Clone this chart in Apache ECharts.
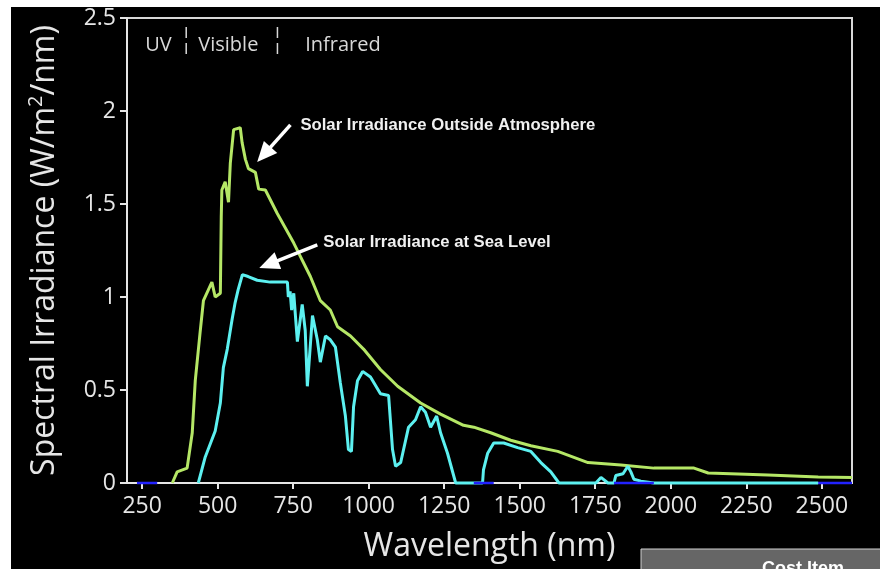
<!DOCTYPE html>
<html>
<head>
    <meta charset="UTF-8">
    <title>Solar Spectral Irradiance</title>
    <script src="https://cdn.jsdelivr.net/npm/echarts@6.0.0/dist/echarts.min.js"></script>
    <style>
        html, body {
            margin: 0;
            padding: 0;
            background: #fff;
        }
        #chartContainer {
            width: 880px;
            height: 569px;
        }
    </style>
</head>
<body>
    <div id="chartContainer"></div>

    <script>
        // Solar irradiance outside the atmosphere (wavelength nm, W/m2/nm)
        const outsideNm = [350, 366, 399, 416, 426, 442, 453, 481, 492, 509, 512, 514, 525, 536, 542, 553, 575, 581, 592, 602, 625, 636, 658, 697, 752, 807, 840, 873, 897, 940, 983, 1039, 1096, 1172, 1238, 1314, 1348, 1404, 1470, 1537, 1626, 1726, 1835, 1944, 2077, 2124, 2322, 2488, 2600];
        const outsideVal = [0, 0.06, 0.08, 0.27, 0.55, 0.81, 0.98, 1.08, 1.0, 1.02, 1.43, 1.575, 1.62, 1.51, 1.72, 1.90, 1.91, 1.83, 1.74, 1.69, 1.67, 1.58, 1.575, 1.45, 1.29, 1.11, 0.98, 0.93, 0.84, 0.79, 0.72, 0.61, 0.52, 0.43, 0.37, 0.31, 0.30, 0.27, 0.23, 0.20, 0.17, 0.11, 0.097, 0.08, 0.08, 0.054, 0.043, 0.032, 0.03];

        // Solar irradiance at sea level
        const seaNm = [436, 459, 492, 509, 519, 532, 548, 558, 568, 582, 601, 631, 674, 731, 734, 740, 745, 752, 764, 780, 790, 797, 814, 830, 840, 857, 873, 890, 906, 923, 933, 943, 950, 963, 980, 1006, 1039, 1066, 1079, 1089, 1106, 1132, 1155, 1172, 1188, 1205, 1225, 1238, 1261, 1288, 1377, 1380, 1394, 1414, 1447, 1493, 1537, 1570, 1603, 1630, 1752, 1769, 1792, 1812, 1818, 1842, 1858, 1868, 1878, 1901, 1944, 2488];
        const seaVal = [0, 0.14, 0.28, 0.43, 0.62, 0.72, 0.88, 0.97, 1.04, 1.12, 1.11, 1.09, 1.08, 1.08, 1.0, 1.03, 0.93, 1.02, 0.76, 0.96, 0.82, 0.52, 0.9, 0.77, 0.65, 0.79, 0.77, 0.73, 0.54, 0.36, 0.18, 0.17, 0.41, 0.55, 0.60, 0.57, 0.48, 0.47, 0.18, 0.09, 0.11, 0.30, 0.34, 0.41, 0.38, 0.30, 0.36, 0.27, 0.16, 0, 0, 0.07, 0.16, 0.215, 0.215, 0.19, 0.17, 0.11, 0.06, 0, 0, 0.03, 0, 0, 0.04, 0.05, 0.09, 0.06, 0.02, 0.01, 0, 0];

        // zero-level blue segments [start, end]
        const blueSegments = [[233, 300], [1348, 1414], [1812, 1944], [2488, 2600]];

        const wavelengthTicks = [250, 500, 750, 1000, 1250, 1500, 1750, 2000, 2250, 2500];

        // band labels along the top
        const bandLabels = ['UV', 'Visible', 'Infrared'];
        const bandLabelNm = [260, 436, 790];
        const bandSeparatorNm = [396, 698];

        const axisColor = '#e6e6e6';
        const labelFont = '"Open Sans", "DejaVu Sans", sans-serif';

        let myChart = echarts.init(document.getElementById('chartContainer'));

        function toPairs(xs, ys) {
            return xs.map((x, i) => [x, ys[i]]);
        }

        function blueData() {
            const out = [];
            blueSegments.forEach(s => {
                out.push([s[0], 0], [s[1], 0], [s[1], '-']);
            });
            return out;
        }

        const option = {
            backgroundColor: '#000',
            animation: false,
            grid: {
                left: 127,
                right: 28,
                top: 18,
                bottom: 86,
                show: true,
                borderColor: '#d8d8d8',
                borderWidth: 2
            },
            xAxis: {
                type: 'value',
                min: 200,
                max: 2600,
                name: 'Wavelength (nm)',
                nameLocation: 'middle',
                nameGap: 48,
                nameTextStyle: { color: axisColor, fontSize: 32, fontFamily: labelFont },
                axisLine: { lineStyle: { color: axisColor, width: 2 } },
                axisTick: { show: true, customValues: wavelengthTicks, length: 6, lineStyle: { color: axisColor, width: 2 } },
                axisLabel: {
                    customValues: wavelengthTicks, margin: 12, color: axisColor, fontSize: 23, fontFamily: labelFont,
                    formatter: v => String(v)
                },
                splitLine: { show: false }
            },
            yAxis: {
                type: 'value',
                min: 0,
                max: 2.5,
                interval: 0.5,
                name: 'Spectral Irradiance (W/m{sup|2}/nm)',
                nameLocation: 'middle',
                nameGap: 63,
                nameTextStyle: {
                    color: axisColor, fontSize: 32, fontFamily: labelFont, lineHeight: 38,
                    rich: { sup: { color: axisColor, fontSize: 20, fontFamily: labelFont, lineHeight: 22, verticalAlign: 'top' } }
                },
                axisLine: { show: true, lineStyle: { color: axisColor, width: 2 } },
                axisTick: { show: true, length: 7, lineStyle: { color: axisColor, width: 2 } },
                axisLabel: { margin: 11, color: axisColor, fontSize: 23, fontFamily: labelFont },
                splitLine: { show: false }
            },
            series: [
                {
                    name: 'Outside Atmosphere',
                    type: 'line',
                    data: toPairs(outsideNm, outsideVal),
                    showSymbol: false,
                    clip: false,
                    lineStyle: { color: '#b5e766', width: 3 }
                },
                {
                    name: 'Sea Level',
                    type: 'line',
                    data: toPairs(seaNm, seaVal),
                    showSymbol: false,
                    clip: false,
                    lineStyle: { color: '#5cf0f0', width: 3 }
                },
                {
                    name: 'zero',
                    type: 'line',
                    data: blueData(),
                    showSymbol: false,
                    clip: false,
                    connectNulls: false,
                    lineStyle: { color: '#2222ff', width: 2.5 }
                }
            ]
        };

        myChart.setOption(option);

        function px(nm, v) {
            return myChart.convertToPixel({ gridIndex: 0 }, [nm, v]);
        }

        function arrow(tail, tip) {
            const dx = tip[0] - tail[0], dy = tip[1] - tail[1];
            const len = Math.hypot(dx, dy);
            const ux = dx / len, uy = dy / len;
            const headLen = 20, headW = 9;
            const base = [tip[0] - ux * headLen, tip[1] - uy * headLen];
            const left = [base[0] - uy * headW, base[1] + ux * headW];
            const right = [base[0] + uy * headW, base[1] - ux * headW];
            return [
                { type: 'line', z: 50, shape: { x1: tail[0], y1: tail[1], x2: base[0] + ux * 4, y2: base[1] + uy * 4 }, style: { stroke: '#fff', lineWidth: 3.5 } },
                { type: 'polygon', z: 50, shape: { points: [tip, left, right] }, style: { fill: '#fff' } }
            ];
        }

        function buildGraphics() {
            const g = [];
            const bandY = px(0, 2.355)[1];
            bandLabels.forEach((t, i) => {
                g.push({
                    type: 'text', z: 50,
                    x: px(bandLabelNm[i], 0)[0], y: bandY,
                    style: { text: t, fill: '#d8d8d8', font: '20px ' + labelFont, verticalAlign: 'middle' }
                });
            });
            bandSeparatorNm.forEach(nm => {
                const a = px(nm, 2.452), b = px(nm, 2.29);
                g.push({
                    type: 'line', z: 50,
                    shape: { x1: a[0], y1: a[1], x2: b[0], y2: b[1] },
                    style: { stroke: '#d8d8d8', lineWidth: 1.5, lineDash: [11, 5] }
                });
            });

            const annFont = 'bold 16.7px "Liberation Sans", Arial, sans-serif';
            const t1 = px(774, 1.925);
            g.push({ type: 'text', z: 50, x: t1[0], y: t1[1], style: { text: 'Solar Irradiance Outside Atmosphere', fill: '#f0f0f0', font: annFont, verticalAlign: 'middle' } });
            const t2 = px(850, 1.296);
            g.push({ type: 'text', z: 50, x: t2[0], y: t2[1], style: { text: 'Solar Irradiance at Sea Level', fill: '#f0f0f0', font: annFont, verticalAlign: 'middle' } });
            arrow(px(741, 1.925), px(631, 1.726)).forEach(e => g.push(e));
            arrow(px(830, 1.28), px(638, 1.156)).forEach(e => g.push(e));

            // bottom-right cut off box
            g.push({ type: 'rect', z: 60, shape: { x: 641, y: 549, width: 240, height: 30 }, style: { fill: '#666', stroke: '#d0d0d0', lineWidth: 1 } });
            g.push({ type: 'text', z: 61, x: 803, y: 560, style: { text: 'Cost Item', fill: '#fff', font: 'bold 18px "Liberation Sans", Arial, sans-serif', align: 'center', verticalAlign: 'top' } });

            // white page margins
            g.push({ type: 'rect', z: 100, shape: { x: 0, y: 0, width: 880, height: 7 }, style: { fill: '#fff' } });
            g.push({ type: 'rect', z: 100, shape: { x: 0, y: 0, width: 11, height: 569 }, style: { fill: '#fff' } });
            return g;
        }

        myChart.setOption({ graphic: buildGraphics() });

        window.addEventListener('resize', function() {
            myChart && myChart.resize();
        });
    </script>
</body>
</html>
